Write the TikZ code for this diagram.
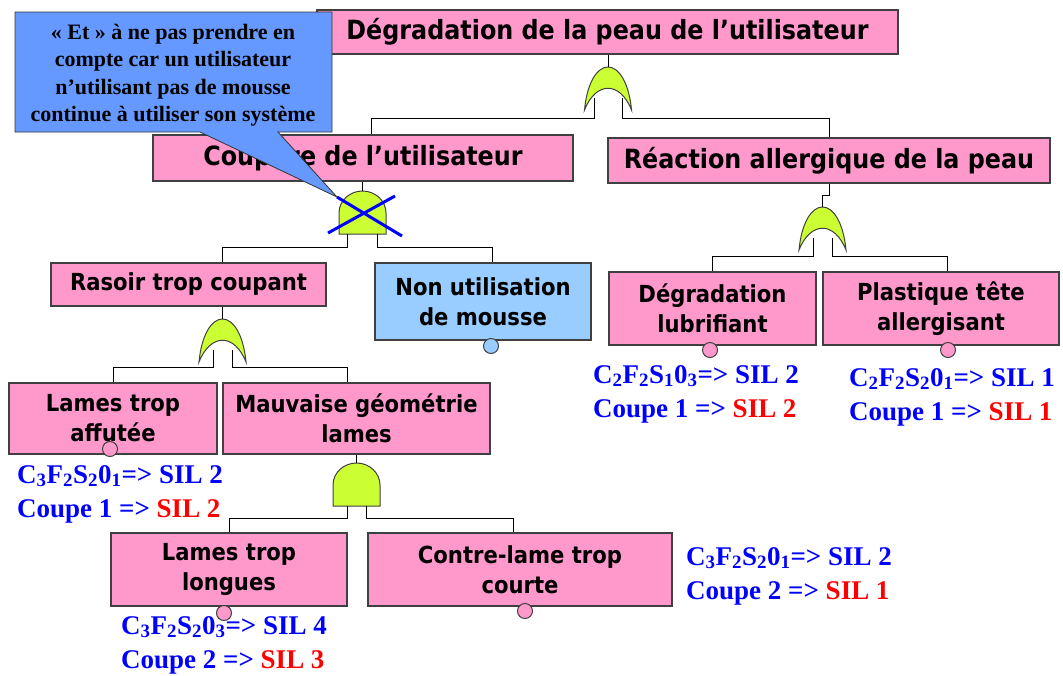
\documentclass[tikz,border=0pt]{standalone}
\usepackage{fontspec}
\setmainfont{Liberation Serif}
\newfontfamily\boxfont{DejaVu Sans Condensed}
\usetikzlibrary{calc}

\definecolor{evpink}{HTML}{FF99CC}
\definecolor{evblue}{HTML}{99CCFF}
\definecolor{gatecol}{HTML}{CCFF33}
\definecolor{notecol}{HTML}{6699FF}
\definecolor{edgegray}{HTML}{404040}
\definecolor{silblue}{HTML}{0000FF}
\definecolor{silred}{HTML}{FF0000}

\tikzset{
  event/.style={draw=edgegray, line width=1.2pt, fill=evpink, inner sep=0pt, align=center,
    font=\boxfont\bfseries\fontsize{23.5}{30}\selectfont},
  bigevent/.style={event, font=\boxfont\bfseries\fontsize{26.5}{30}\selectfont},
  dims/.style 2 args={minimum width=#1pt, minimum height=#2pt},
  basic/.style={circle, draw=edgegray, line width=1pt, fill=evpink, minimum size=15pt, inner sep=0pt},
  link/.style={line width=1pt},
  gatebody/.style={draw=edgegray, line width=1pt, fill=gatecol},
  silcode/.style={anchor=base west, inner sep=0pt, text=silblue, font=\bfseries\fontsize{27}{34}\selectfont},
  pics/orgate/.style={code={
    \draw[gatebody] (-23.5,0) .. controls (-21,-27) and (-11,-43) .. (0,-43)
      .. controls (11,-43) and (21,-27) .. (23.5,0)
      .. controls (12,-29) and (-12,-29) .. cycle;
    \coordinate (-top) at (0,-43);
    \coordinate (-l) at (-#1,-12);
    \coordinate (-r) at (#1,-12);
  }},
  pics/andgate/.style={code={
    \draw[gatebody] (-23.5,0) -- (-23.5,-21) .. controls (-23.5,-33) and (-13,-43) .. (0,-43)
      .. controls (13,-43) and (23.5,-33) .. (23.5,-21) -- (23.5,0) -- cycle;
    \coordinate (-top) at (0,-43);
    \coordinate (-l) at (-#1,0);
    \coordinate (-r) at (#1,0);
  }},
}

\begin{document}
\begin{tikzpicture}[x=1pt, y=-1pt]
\useasboundingbox (0,0) rectangle (1063,675);

\node[bigevent, dims={581}{44}] (peau) at (607.5,32) {Dégradation de la peau de l’utilisateur};
\node[bigevent, dims={420}{46}] (coupure) at (363,158) {Coupure de l’utilisateur};
\node[bigevent, dims={442}{45}] (reaction) at (829,160.5) {Réaction allergique de la peau};
\node[event, dims={275}{43}] (rasoir) at (188.5,284.5) {Rasoir trop coupant};
\node[event, dims={216}{77}, fill=evblue] (mousse) at (483,301.5) {Non utilisation\\de mousse};
\node[event, dims={208}{71}] (affutee) at (113,418.5) {Lames trop\\affutée};
\node[event, dims={267}{71}] (mauvaise) at (356.5,418.5) {Mauvaise géométrie\\lames};
\node[event, dims={236}{73}] (longues) at (229,569.5) {Lames trop\\longues};
\node[event, dims={304}{73}] (contre) at (520,569.5) {Contre-lame trop\\courte};
\node[event, dims={207}{73}] (lubrif) at (712.5,308.5) {Dégradation\\lubrifiant};
\node[event, dims={236}{73}] (plastique) at (941,308.5) {Plastique tête\\allergisant};

\node[basic] (baf) at (110,449) {};
\node[basic, fill=evblue] (bmo) at (491,346) {};
\node[basic] (blu) at (710,350) {};
\node[basic] (bpl) at (948,350) {};
\node[basic] (blo) at (224,613) {};
\node[basic] (bco) at (525,611) {};

\pic (g0) at (608,110) {orgate=14};
\pic (g1) at (362.5,234) {andgate=15};
\pic (g2) at (822.5,250) {orgate=9.5};
\pic (g3) at (222.5,362) {orgate=9.5};
\pic (g4) at (356.5,506) {andgate=9.5};

\draw[link] (peau.south -| g0-top) -- (g0-top);
\draw[link] (g0-l) -- ++(0,20) -| ([xshift=8pt]coupure.north);
\draw[link] (g0-r) -- ++(0,20) -| (reaction.north);
\draw[link] (coupure.south -| g1-top) -- (g1-top);
\draw[link] (g1-l) -- ++(0,13) -| ([xshift=33.5pt]rasoir.north);
\draw[link] (g1-r) -- ++(0,13) -| ([xshift=9pt]mousse.north);
\draw[link] (reaction.south) -- ++(0,12) -| (g2-top);
\draw[link] (g2-l) -- ++(0,18) -| (lubrif.north);
\draw[link] (g2-r) -- ++(0,18) -| ([xshift=6pt]plastique.north);
\draw[link] (rasoir.south -| g3-top) -- (g3-top);
\draw[link] (g3-l) -- ++(0,17) -| (affutee.north);
\draw[link] (g3-r) -- ++(0,17) -| ([xshift=-9.5pt]mauvaise.north);
\draw[link] (mauvaise.south -| g4-top) -- (g4-top);
\draw[link] (g4-l) -- ++(0,12) -| (longues.north);
\draw[link] (g4-r) -- ++(0,12) -| ([xshift=-7pt]contre.north);

% bulle
\draw[draw=black!80, line width=0.8pt, fill=notecol] (15,12) -- (332,12) -- (332,132) -- (278,132)
  -- (337,197) -- (200,132) -- (15,132) -- cycle;
\node[font=\bfseries\fontsize{22}{27.5}\selectfont, align=center] (note) at (173,75)
  {« Et » à ne pas prendre en\\compte car un utilisateur\\n’utilisant pas de mousse\\continue à utiliser son système};
\draw[silblue, line width=3pt] (328,233) -- (395,196) (337,197) -- (402,236);

\foreach \nm/\px/\py/\nc/\nf/\ns/\no/\sila/\ncut/\silb in
  {af/17/483/3/2/2/1/2/1/2, lo/121/634/3/2/2/3/4/2/3, co/686/565/3/2/2/1/2/2/1,
   lu/593/383/2/2/1/3/2/1/2, pl/849/386/2/2/2/1/1/1/1}{
  \node[silcode] (\nm-sil) at (\px,\py) {C\textsubscript{\nc}F\textsubscript{\nf}S\textsubscript{\ns}0\textsubscript{\no}=> SIL \sila};
  \node[silcode] (\nm-cut) at (\px,\py+34) {Coupe \ncut{} => \textcolor{silred}{SIL \silb}};
}
\end{tikzpicture}
\end{document}
